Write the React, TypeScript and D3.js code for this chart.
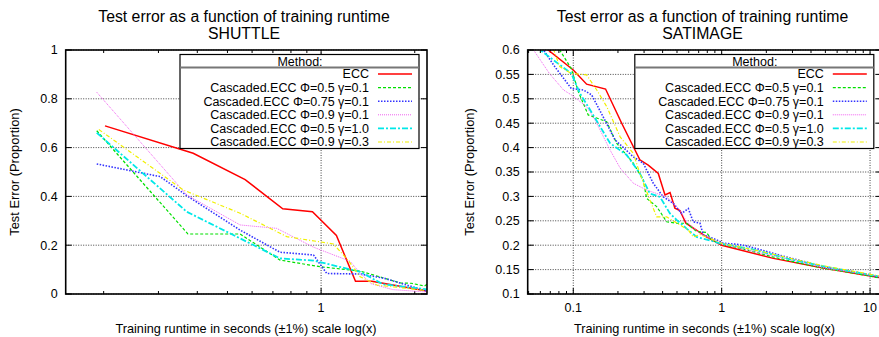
import React, { useEffect, useRef } from 'react';
import * as d3 from 'd3';

type Pt = [number, number];

const methodLabels = [
  'ECC',
  'Cascaded.ECC Φ=0.5 γ=0.1',
  'Cascaded.ECC Φ=0.75 γ=0.1',
  'Cascaded.ECC Φ=0.9 γ=0.1',
  'Cascaded.ECC Φ=0.5 γ=1.0',
  'Cascaded.ECC Φ=0.9 γ=0.3',
];

// SHUTTLE: [runtime (s), test error]
const shuttleEcc: Pt[] = [[0.202, 0.689], [0.388, 0.577], [0.57, 0.469], [0.753, 0.349], [0.938, 0.337], [1.12, 0.24], [1.29, 0.052], [1.456, 0.052], [2.19, 0.012]];
const shuttleP05g01: Pt[] = [[0.19, 0.669], [0.373, 0.246], [0.549, 0.246], [0.738, 0.139], [0.99, 0.112], [1.335, 0.094], [1.8, 0.045], [1.95, 0.044], [2.15, 0.033], [2.19, 0.04]];
const shuttleP075g01: Pt[] = [[0.19, 0.533], [0.304, 0.481], [0.374, 0.399], [0.549, 0.262], [0.738, 0.171], [0.945, 0.16], [1.043, 0.084], [1.335, 0.082], [1.6, 0.064], [2.19, 0.012]];
const shuttleP09g01: Pt[] = [[0.19, 0.827], [0.37, 0.406], [0.549, 0.283], [0.72, 0.269], [0.945, 0.192], [1.24, 0.134], [1.335, 0.085], [1.45, 0.042], [1.7, 0.018], [2.19, 0.008]];
const shuttleP05g10: Pt[] = [[0.19, 0.661], [0.37, 0.337], [0.738, 0.146], [0.945, 0.137], [1.335, 0.091], [1.58, 0.04], [2.19, 0.019]];
const shuttleP09g03: Pt[] = [[0.193, 0.674], [0.361, 0.426], [0.549, 0.331], [0.776, 0.235], [1.095, 0.205], [1.22, 0.139], [1.335, 0.071], [1.51, 0.037], [2.19, 0.014]];

// SATIMAGE
const satEcc: Pt[] = [[0.05, 0.64], [0.0677, 0.6], [0.1, 0.559], [0.123, 0.53], [0.165, 0.52], [0.212, 0.45], [0.281, 0.375], [0.32, 0.364], [0.374, 0.347], [0.415, 0.303], [0.449, 0.308], [0.484, 0.276], [0.523, 0.271], [0.574, 0.245], [0.79, 0.217], [1, 0.2], [2.23, 0.173], [4.84, 0.153], [12, 0.133]];
const satP05g01: Pt[] = [[0.075, 0.63], [0.081, 0.6], [0.097, 0.562], [0.108, 0.515], [0.126, 0.467], [0.168, 0.453], [0.196, 0.409], [0.254, 0.368], [0.296, 0.334], [0.312, 0.296], [0.365, 0.279], [0.426, 0.248], [0.497, 0.245], [0.581, 0.245], [0.678, 0.228], [0.79, 0.226], [0.856, 0.211], [1, 0.202], [1.5, 0.19], [2.2, 0.176], [3.5, 0.162], [5, 0.152], [8, 0.142], [12, 0.132]];
const satP075g01: Pt[] = [[0.055, 0.63], [0.063, 0.6], [0.075, 0.566], [0.097, 0.521], [0.117, 0.518], [0.133, 0.508], [0.159, 0.463], [0.191, 0.416], [0.254, 0.381], [0.296, 0.368], [0.346, 0.327], [0.404, 0.299], [0.472, 0.286], [0.537, 0.265], [0.596, 0.275], [0.643, 0.248], [0.714, 0.245], [0.752, 0.221], [0.925, 0.211], [1.025, 0.204], [1.26, 0.202], [1.5, 0.198], [2.5, 0.179], [5, 0.155], [8, 0.145], [12, 0.134]];
const satP09g01: Pt[] = [[0.047, 0.62], [0.054, 0.6], [0.069, 0.552], [0.086, 0.518], [0.097, 0.508], [0.123, 0.484], [0.14, 0.457], [0.177, 0.395], [0.207, 0.358], [0.254, 0.327], [0.312, 0.313], [0.365, 0.306], [0.426, 0.299], [0.524, 0.272], [0.581, 0.248], [0.714, 0.224], [1, 0.203], [1.6, 0.188], [2.5, 0.175], [5, 0.153], [12, 0.135]];
const satP05g10: Pt[] = [[0.05, 0.63], [0.06, 0.6], [0.073, 0.58], [0.097, 0.552], [0.111, 0.511], [0.13, 0.477], [0.177, 0.409], [0.229, 0.385], [0.281, 0.347], [0.328, 0.306], [0.384, 0.299], [0.448, 0.265], [0.497, 0.252], [0.581, 0.234], [0.678, 0.217], [1, 0.203], [1.6, 0.192], [3, 0.17], [5, 0.156], [12, 0.135]];
const satP09g03: Pt[] = [[0.07, 0.62], [0.081, 0.566], [0.097, 0.552], [0.123, 0.549], [0.144, 0.518], [0.168, 0.484], [0.207, 0.422], [0.254, 0.388], [0.281, 0.347], [0.328, 0.293], [0.365, 0.258], [0.426, 0.258], [0.596, 0.231], [0.643, 0.217], [0.714, 0.222], [1, 0.204], [2, 0.185], [3, 0.172], [5, 0.157], [12, 0.136]];

const shuttleSeries = [shuttleEcc, shuttleP05g01, shuttleP075g01, shuttleP09g01, shuttleP05g10, shuttleP09g03];
const satSeries = [satEcc, satP05g01, satP075g01, satP09g01, satP05g10, satP09g03];

const shuttleYTicks = [0, 0.2, 0.4, 0.6, 0.8, 1];
const satYTicks = [0.1, 0.15, 0.2, 0.25, 0.3, 0.35, 0.4, 0.45, 0.5, 0.55, 0.6];
const shuttleXTicks = [1];
const satXTicks = [0.1, 1, 10];

const lineStyles = [
  { color: '#ff0000', dash: null, width: 1.5 },
  { color: '#00e000', dash: '3,2', width: 1.2 },
  { color: '#3333ff', dash: '1.5,1.5', width: 1.6 },
  { color: '#f060f0', dash: '1,1', width: 1 },
  { color: '#00e8e8', dash: '6,2,2,2', width: 1.8 },
  { color: '#f0f000', dash: '4,2,1,2', width: 1.2 },
];

const FONT = '"Liberation Sans", Arial, Helvetica, sans-serif';

interface PanelCfg {
  id: string;
  title: string;
  series: Pt[][];
  xDomain: [number, number];
  xRange: [number, number];
  yDomain: [number, number];
  yTicks: number[];
  xTicks: number[];
  yFmt: (d: number) => string;
  titleX: number;
  yLabelX: number;
  xLabelX: number;
}

const TOP = 50;
const BOTTOM = 294;

function drawPanel(root: d3.Selection<SVGSVGElement, unknown, null, undefined>, cfg: PanelCfg) {
  const g = root.append('g');
  const x = d3.scaleLog().domain(cfg.xDomain).range(cfg.xRange);
  const y = d3.scaleLinear().domain(cfg.yDomain).range([BOTTOM, TOP]);
  const [x0, x1] = cfg.xRange;

  // titles
  g.append('text').attr('x', cfg.titleX).attr('y', 21.5).attr('text-anchor', 'middle')
    .style('font-size', '15.8px').text('Test error as a function of training runtime');
  g.append('text').attr('x', cfg.titleX).attr('y', 38.5).attr('text-anchor', 'middle')
    .style('font-size', '15.8px').text(cfg.title);

  // grid
  cfg.yTicks.forEach(t => {
    g.append('line').attr('x1', x0).attr('x2', x1).attr('y1', y(t)).attr('y2', y(t))
      .attr('stroke', '#444').attr('stroke-width', 1).attr('stroke-dasharray', '1,1.5');
  });
  cfg.xTicks.forEach(t => {
    g.append('line').attr('x1', x(t)).attr('x2', x(t)).attr('y1', TOP).attr('y2', BOTTOM)
      .attr('stroke', '#444').attr('stroke-width', 1).attr('stroke-dasharray', '1,1.5');
  });

  // tick marks (mirrored)
  const ticks = g.append('g').attr('stroke', '#000').attr('stroke-width', 1);
  cfg.yTicks.forEach(t => {
    ticks.append('line').attr('x1', x0).attr('x2', x0 + 6).attr('y1', y(t)).attr('y2', y(t));
    ticks.append('line').attr('x1', x1).attr('x2', x1 - 6).attr('y1', y(t)).attr('y2', y(t));
  });
  const minor: number[] = [];
  for (let e = -2; e <= 1; e++) {
    for (let m = 1; m < 10; m++) {
      const v = m * Math.pow(10, e);
      if (v >= cfg.xDomain[0] && v <= cfg.xDomain[1]) minor.push(v);
    }
  }
  minor.forEach(v => {
    const major = cfg.xTicks.includes(v);
    const len = major ? 6 : 3;
    ticks.append('line').attr('x1', x(v)).attr('x2', x(v)).attr('y1', BOTTOM).attr('y2', BOTTOM - len);
    ticks.append('line').attr('x1', x(v)).attr('x2', x(v)).attr('y1', TOP).attr('y2', TOP + len);
  });

  // tick labels
  cfg.yTicks.forEach(t => {
    g.append('text').attr('x', x0 - 8).attr('y', y(t)).attr('dy', '0.35em').attr('text-anchor', 'end')
      .style('font-size', '12.5px').text(cfg.yFmt(t));
  });
  cfg.xTicks.forEach(t => {
    g.append('text').attr('x', x(t)).attr('y', 312).attr('text-anchor', 'middle')
      .style('font-size', '12.5px').text(String(t));
  });

  // axis labels
  g.append('text').attr('x', cfg.xLabelX).attr('y', 333).attr('text-anchor', 'middle')
    .style('font-size', '12.7px').text('Training runtime in seconds (±1%) scale log(x)');
  g.append('text').attr('transform', `translate(${cfg.yLabelX},${172}) rotate(-90)`)
    .attr('text-anchor', 'middle').attr('dy', '0.35em')
    .style('font-size', '12.9px').text('Test Error (Proportion)');

  // clip
  root.append('defs').append('clipPath').attr('id', `clip-${cfg.id}`)
    .append('rect').attr('x', x0).attr('y', TOP).attr('width', x1 - x0).attr('height', BOTTOM - TOP);

  const line = d3.line<Pt>().x(d => x(d[0])).y(d => y(d[1]));
  const lines = g.append('g').attr('clip-path', `url(#clip-${cfg.id})`);
  cfg.series.forEach((s, i) => {
    const st = lineStyles[i];
    lines.append('path').attr('d', line(s) as string).attr('fill', 'none')
      .attr('stroke', st.color).attr('stroke-width', st.width)
      .attr('stroke-dasharray', st.dash as any);
  });

  // border
  g.append('rect').attr('x', x0).attr('y', TOP).attr('width', x1 - x0).attr('height', BOTTOM - TOP)
    .attr('fill', 'none').attr('stroke', '#000').attr('stroke-width', 1.6);

  // legend
  const lx = x1 - 8 - 239;
  const lg = g.append('g').attr('transform', `translate(${lx},54.5)`);
  lg.append('rect').attr('width', 239).attr('height', 94).attr('fill', '#fff')
    .attr('stroke', '#000').attr('stroke-width', 1.2);
  lg.append('line').attr('x1', 0).attr('x2', 239).attr('y1', 13).attr('y2', 13)
    .attr('stroke', '#777').attr('stroke-width', 2);
  lg.append('text').attr('x', 120).attr('y', 7).attr('dy', '0.35em').attr('text-anchor', 'middle')
    .style('font-size', '12.5px').text('Method:');
  methodLabels.forEach((lab, i) => {
    const ry = 19.5 + i * 13.6;
    const st = lineStyles[i];
    lg.append('text').attr('x', 189).attr('y', ry).attr('dy', '0.35em').attr('text-anchor', 'end')
      .style('font-size', '12.5px').text(lab);
    lg.append('line').attr('x1', 198).attr('x2', 232).attr('y1', ry).attr('y2', ry)
      .attr('stroke', st.color).attr('stroke-width', st.width)
      .attr('stroke-dasharray', st.dash as any);
  });
}

const App: React.FC = () => {
  const ref = useRef<SVGSVGElement | null>(null);

  useEffect(() => {
    const svg = d3.select(ref.current as SVGSVGElement);
    svg.selectAll('*').remove();
    svg.style('font-family', FONT);

    drawPanel(svg, {
      id: 'shuttle', title: 'SHUTTLE', series: shuttleSeries,
      xDomain: [0.151, 2.19], xRange: [65.7, 427],
      yDomain: [0, 1], yTicks: shuttleYTicks, xTicks: shuttleXTicks,
      yFmt: d => String(d), titleX: 244, yLabelX: 14, xLabelX: 246,
    });
    drawPanel(svg, {
      id: 'sat', title: 'SATIMAGE', series: satSeries,
      xDomain: [0.0493, 12], xRange: [527.7, 881.8],
      yDomain: [0.1, 0.6], yTicks: satYTicks, xTicks: satXTicks,
      yFmt: d => String(+d.toFixed(2)), titleX: 702.5, yLabelX: 469, xLabelX: 704.5,
    });
  }, []);

  return (
    <svg ref={ref} width={879} height={337}
      style={{ position: 'fixed', left: 0, top: 0, background: '#fff' }} />
  );
};

export default App;
